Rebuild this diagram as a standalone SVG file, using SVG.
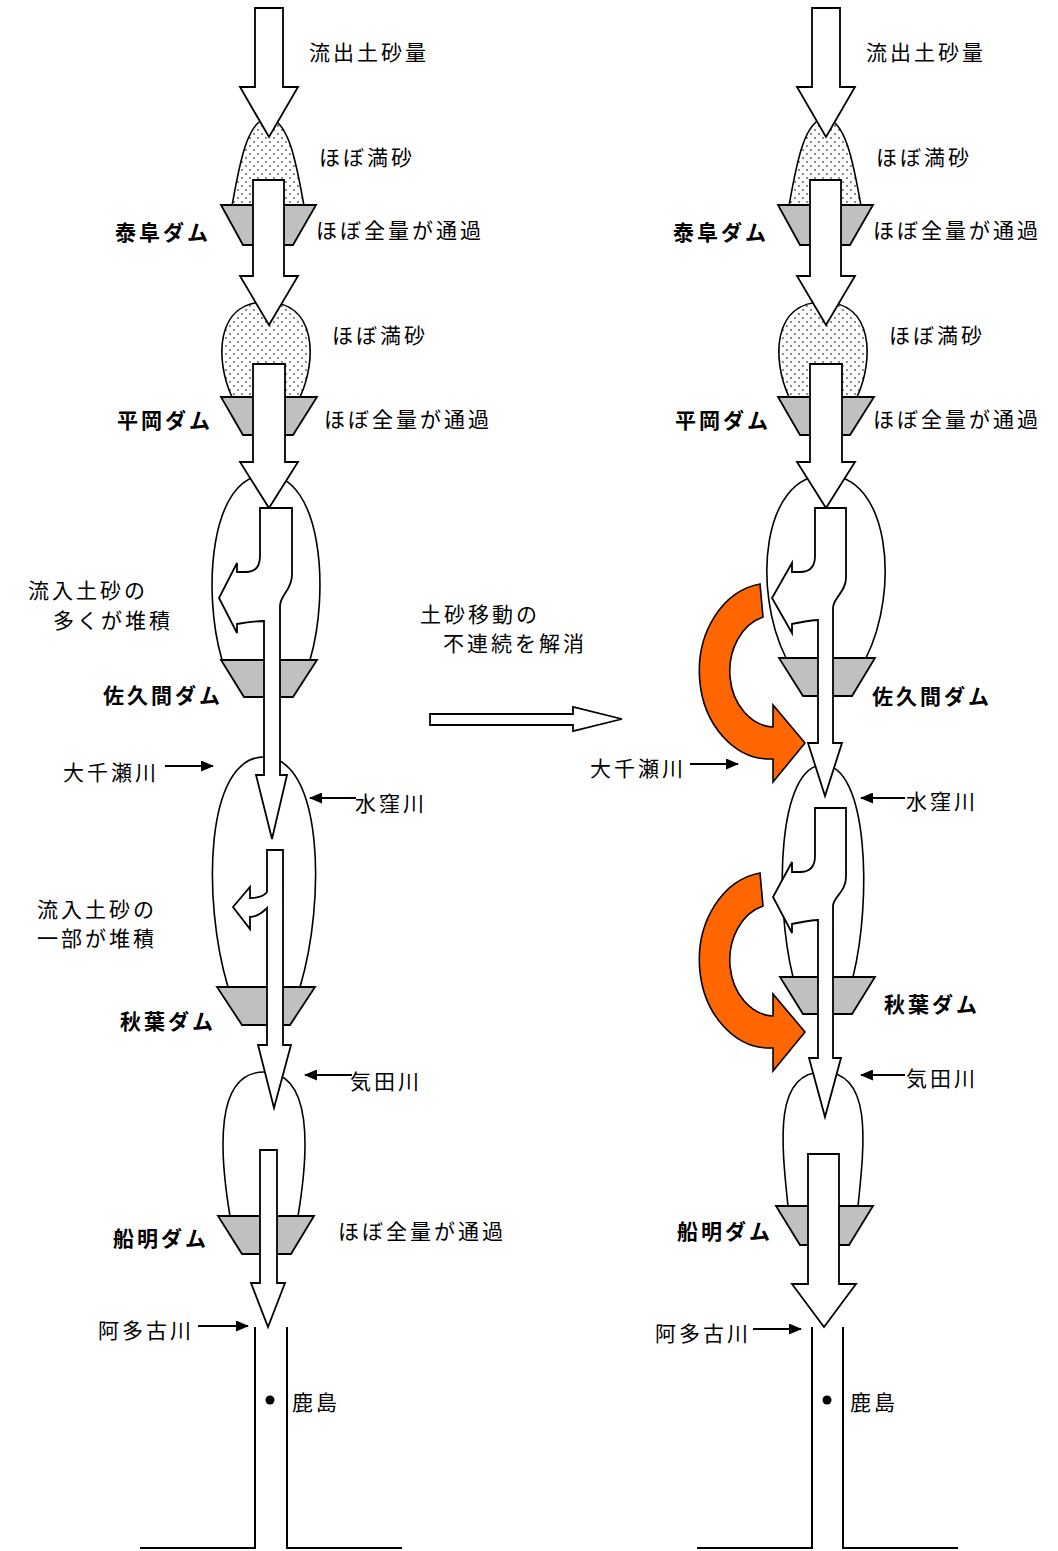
<svg xmlns="http://www.w3.org/2000/svg" width="1058" height="1551" viewBox="0 0 1058 1551">
<style>
.t{font-family:"Noto Sans CJK JP","Noto Sans CJK SC",sans-serif;font-size:21px;letter-spacing:3px;fill:#000}
.b{font-weight:bold}
.arr{fill:#fff;stroke:#000;stroke-width:1.8;stroke-linejoin:miter}
.dam{fill:#c0c0c0;stroke:#000;stroke-width:1.8}
.res{fill:#fff;stroke:#000;stroke-width:1.6}
.sand{fill:url(#dots);stroke:#000;stroke-width:1.6}
.orange{fill:#ff6600;stroke:#000;stroke-width:1.6}
.ln{stroke:#000;stroke-width:2;fill:none}
.tr{stroke:#000;stroke-width:2;fill:none;marker-end:url(#ah)}
</style>
<defs>
<pattern id="dots" width="8" height="8" patternUnits="userSpaceOnUse">
<rect width="8" height="8" fill="#fff"/>
<circle cx="2" cy="2" r="0.9" fill="#555"/>
<circle cx="6" cy="6" r="0.9" fill="#555"/>
</pattern>
<marker id="ah" markerWidth="13" markerHeight="11" refX="12" refY="5.5" orient="auto" markerUnits="userSpaceOnUse">
<path d="M0,0 L13,5.5 L0,11 Z" fill="#000"/>
</marker>
<path id="uturn" d="M760,584 A71,88 0 0 0 773,759 L773,782 L805,743 L773,705 L773,727 A45,56 0 0 1 763,617 Z"/>
</defs>

<!-- LEFT COLUMN -->
<g id="L-yasuoka">
<path class="sand" d="M232,206 C240,160 248,120 268,118 C288,120 296,160 304,206 Z"/>
<path class="dam" d="M221,205 L316,205 L293,245 L243,245 Z"/>
</g>
<g id="L-hiraoka">
<path class="sand" d="M232,397 C215,360 215,302 266,302 C317,302 317,360 300,397 Z"/>
<path class="dam" d="M221,397 L317,397 L293,435 L243,435 Z"/>
</g>
<g id="L-sakuma">
<path class="res" d="M222,660 C202,592 210,475 266,475 C322,475 330,592 310,660 Z"/>
<path class="dam" d="M221,660 L317,660 L293,697 L244,697 Z"/>
</g>
<g id="L-akiha">
<path class="res" d="M228,987 C202,900 205,757 264,757 C323,757 326,900 300,987 Z"/>
<path class="dam" d="M217,987 L315,987 L290,1025 L242,1025 Z"/>
</g>
<g id="L-funagira">
<path class="res" d="M230,1216 C219,1150 215,1072 264,1072 C313,1072 309,1150 298,1216 Z"/>
<path class="dam" d="M218,1216 L314,1216 L291,1254 L242,1254 Z"/>
</g>
<g id="L-estuary">
<path class="ln" d="M255,1327 V1548 H140"/>
<path class="ln" d="M287,1327 V1548 H402"/>
<circle cx="270" cy="1400" r="4.5" fill="#000"/>
</g>

<!-- RIGHT COLUMN -->
<g id="R-yasuoka" transform="translate(557,0)">
<path class="sand" d="M232,206 C240,160 248,120 268,118 C288,120 296,160 304,206 Z"/>
<path class="dam" d="M221,205 L316,205 L293,245 L243,245 Z"/>
</g>
<g id="R-hiraoka" transform="translate(557,0)">
<path class="sand" d="M232,397 C215,360 215,302 266,302 C317,302 317,360 300,397 Z"/>
<path class="dam" d="M221,397 L317,397 L293,435 L243,435 Z"/>
</g>
<g id="R-sakuma">
<path class="res" d="M786,658 C752,590 762,475 826,475 C890,475 900,590 866,658 Z"/>
<path class="dam" d="M779,658 L875,658 L852,696 L803,696 Z"/>
</g>
<g id="R-akiha">
<path class="res" d="M793,977 C774,900 778,765 823,765 C868,765 872,900 853,977 Z"/>
<path class="dam" d="M780,977 L875,977 L852,1014 L803,1014 Z"/>
</g>
<g id="R-funagira">
<path class="res" d="M788,1206 C781,1140 774,1072 823,1072 C872,1072 865,1140 858,1206 Z"/>
<path class="dam" d="M776,1206 L873,1206 L849,1245 L800,1245 Z"/>
</g>
<g id="R-estuary">
<path class="ln" d="M812,1327 V1548 H697"/>
<path class="ln" d="M843,1327 V1548 H958"/>
<circle cx="827" cy="1400" r="4.5" fill="#000"/>
</g>

<!-- CONNECTORS -->
<g id="connectors">
<!-- left flow arrows -->
<path class="arr" d="M255,8 L283,8 L283,87 L298,87 L269,137 L240,87 L255,87 Z"/>
<path class="arr" d="M253,180 L284,180 L284,276 L298,276 L269,325 L240,276 L253,276 Z"/>
<path class="arr" d="M253,364 L285,364 L285,462 L298,462 L269,508 L240,462 L253,462 Z"/>
<path class="arr" d="M260,508 L292,508 L292,575 C292,590 280,595 280,606 L280,775 L287,775 L272,839 L256,775 L264,775 L264,621 C258,621 248,622 237,624 L237,633 L219,598 L237,563 L237,572 L246,572 C256,572 260,566 260,556 Z"/>
<path class="arr" d="M267,850 L283,850 L283,1045 L291,1045 L274,1108 L258,1045 L267,1045 L267,908 C262,913 257,917 250,917 L250,929 L233,907 L250,887 L250,898 C258,898 264,896 267,892 Z"/>
<path class="arr" d="M260,1150 L277,1150 L277,1283 L285,1283 L268,1327 L251,1283 L260,1283 Z"/>
<!-- right flow arrows -->
<path class="arr" d="M812,8 L840,8 L840,87 L855,87 L826,137 L797,87 L812,87 Z"/>
<path class="arr" d="M810,180 L841,180 L841,276 L855,276 L826,325 L797,276 L810,276 Z"/>
<path class="arr" d="M810,364 L842,364 L842,462 L855,462 L826,508 L797,462 L810,462 Z"/>
<path class="arr" d="M815,508 L846,508 L846,578 C846,592 833,598 833,608 L833,743 L842,743 L825,796 L808,743 L818,743 L818,620 C812,620 802,622 792,624 L792,633 L772,598 L792,563 L792,572 L800,572 C810,572 815,566 815,556 Z"/>
<path class="arr" d="M815,808 L846,808 L846,877 C846,892 833,897 833,906 L833,1058 L841,1058 L825,1117 L809,1058 L818,1058 L818,920 C812,920 802,922 792,924 L792,933 L773,897 L792,862 L792,872 L800,872 C810,872 815,866 815,856 Z"/>
<path class="arr" d="M808,1154 L839,1154 L839,1284 L856,1284 L824,1327 L792,1284 L808,1284 Z"/>
<!-- orange bypass arrows -->
<use href="#uturn" class="orange"/>
<use href="#uturn" class="orange" transform="translate(0,289)"/>
<!-- middle arrow -->
<path class="arr" d="M430,714 L573,714 L573,707 L622,719 L573,731 L573,725 L430,725 Z"/>
<!-- tributaries -->
<line class="tr" x1="165" y1="766" x2="213" y2="766"/>
<line class="tr" x1="356" y1="798" x2="310" y2="798"/>
<line class="tr" x1="352" y1="1075" x2="305" y2="1075"/>
<line class="tr" x1="198" y1="1326" x2="248" y2="1326"/>
<line class="tr" x1="690" y1="764" x2="738" y2="764"/>
<line class="tr" x1="905" y1="798" x2="861" y2="798"/>
<line class="tr" x1="905" y1="1075" x2="861" y2="1075"/>
<line class="tr" x1="753" y1="1329" x2="801" y2="1329"/>
</g>

<!-- TEXT -->
<g id="labels-left">
<text class="t" x="309" y="60">流出土砂量</text>
<text class="t" x="319" y="165">ほぼ満砂</text>
<text class="t" x="316" y="238">ほぼ全量が通過</text>
<text class="t b" x="115" y="240">泰阜ダム</text>
<text class="t" x="332" y="343">ほぼ満砂</text>
<text class="t b" x="117" y="428">平岡ダム</text>
<text class="t" x="324" y="427">ほぼ全量が通過</text>
<text class="t" x="28" y="598">流入土砂の</text>
<text class="t" x="53" y="628">多くが堆積</text>
<text class="t b" x="103" y="703">佐久間ダム</text>
<text class="t" x="63" y="780">大千瀬川</text>
<text class="t" x="355" y="811">水窪川</text>
<text class="t" x="37" y="917">流入土砂の</text>
<text class="t" x="37" y="946">一部が堆積</text>
<text class="t b" x="120" y="1029">秋葉ダム</text>
<text class="t" x="350" y="1089">気田川</text>
<text class="t b" x="113" y="1246">船明ダム</text>
<text class="t" x="338" y="1239">ほぼ全量が通過</text>
<text class="t" x="98" y="1338">阿多古川</text>
<text class="t" x="292" y="1410">鹿島</text>
</g>
<g id="labels-middle">
<text class="t" x="420" y="622">土砂移動の</text>
<text class="t" x="443" y="651">不連続を解消</text>
</g>
<g id="labels-right">
<text class="t" x="866" y="60">流出土砂量</text>
<text class="t" x="876" y="165">ほぼ満砂</text>
<text class="t b" x="673" y="240">泰阜ダム</text>
<text class="t" x="873" y="238">ほぼ全量が通過</text>
<text class="t" x="889" y="343">ほぼ満砂</text>
<text class="t b" x="675" y="428">平岡ダム</text>
<text class="t" x="873" y="427">ほぼ全量が通過</text>
<text class="t b" x="872" y="704">佐久間ダム</text>
<text class="t" x="590" y="776">大千瀬川</text>
<text class="t" x="906" y="809">水窪川</text>
<text class="t b" x="884" y="1012">秋葉ダム</text>
<text class="t" x="906" y="1086">気田川</text>
<text class="t b" x="677" y="1239">船明ダム</text>
<text class="t" x="655" y="1341">阿多古川</text>
<text class="t" x="850" y="1410">鹿島</text>
</g>
</svg>
